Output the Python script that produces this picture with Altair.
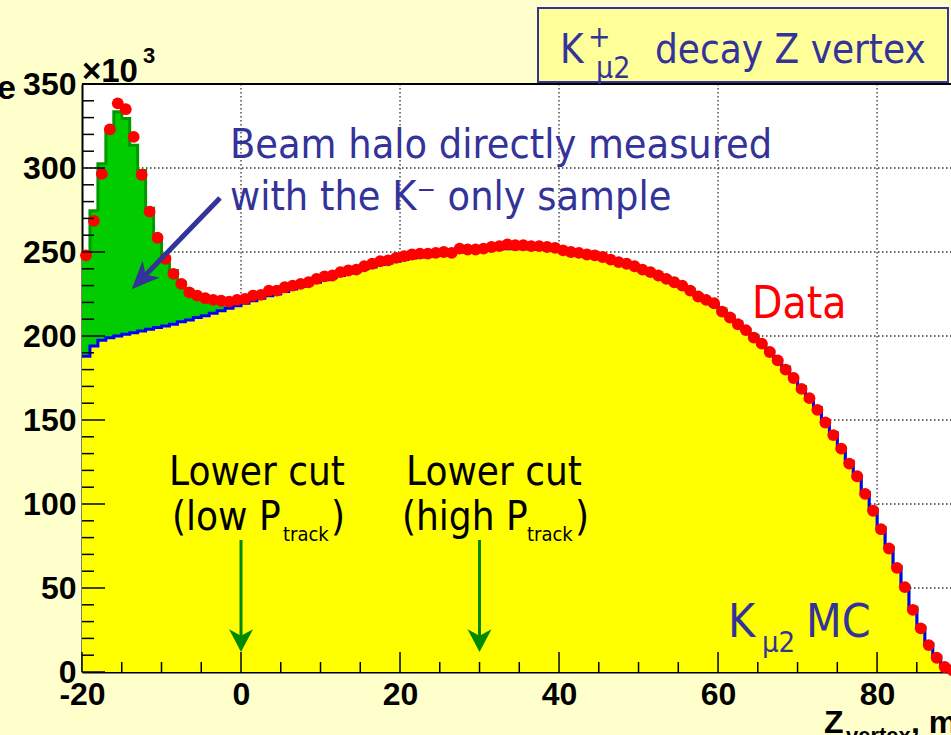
import altair as alt
import pandas as pd

# ---------------- data (counts in units of 10^3, 1 cm bins) ----------------
bin_left_edges = list(range(-20, 90))          # bins [-20,-19) ... [89,90)
bin_centers = [e + 0.5 for e in bin_left_edges]

data_counts = [
    248, 268.5, 296.5, 323, 338.5, 335, 318.5, 296, 274, 258.5,
    246, 237, 231, 226, 224, 222.5, 221.5, 221, 220.5, 221.5,
    222, 224, 224.5, 227, 227, 229, 230, 231, 232, 234,
    235.5, 236, 238, 239, 239.5, 241.5, 243, 244.5, 245, 246.5,
    247.5, 248.5, 249, 249, 249.5, 250, 249.5, 252, 251.5, 251.5,
    252, 253, 253.5, 254.5, 254, 254, 253.5, 253.5, 253, 252.5,
    251, 250, 249.5, 248.5, 248, 247, 245.5, 244, 243, 241.5,
    239.5, 238, 236, 234, 232, 230, 227, 223.5, 221.5, 219.5,
    214.5, 211, 207, 203.5, 199, 195.5, 190.5, 185.5, 180, 175,
    168.5, 163, 156, 148.5, 141, 133, 124, 116.5, 106, 96,
    85, 73.5, 62, 50.5, 37, 26, 16, 8.5, 3, 1,
]

mc_counts = [
    188, 194, 197.5, 199, 200, 201, 202, 203, 204, 205,
    206, 207, 208.5, 209.5, 211, 212, 213.5, 215, 216.5, 218,
    219.5, 221, 222.5, 224, 225, 226.5, 228, 229.5, 231, 232,
    233.5, 235, 236, 237.5, 238.5, 240, 241, 242.5, 243.5, 244.5,
    245.5, 246.5, 247, 247.5, 248.5, 249, 249.5, 250, 250.5, 251,
    251, 251.5, 252, 252, 252, 252, 252, 251.5, 251.5, 251,
    250.5, 249.5, 249, 248, 247, 246, 245, 243.5, 242.5, 241,
    239.5, 238, 236, 234, 232, 229.5, 227, 224, 221.5, 218.5,
    215, 211.5, 207.5, 203.5, 199.5, 195, 190.5, 185.5, 180.5, 175,
    169, 163, 156.5, 149, 141.5, 133, 124.5, 116, 106.5, 96.5,
    85.5, 74, 62.5, 50.5, 38, 26.5, 16.5, 9, 3.5, 1,
]

halo_counts = [
    62, 80.5, 105, 123, 133.5, 128.5, 111.5, 95.5, 72, 54,
    41, 32, 23.5, 17.5, 13, 10.5, 8.5, 6.5, 4.5, 2.5,
    2, 1.5, 1.5, 1, 1, 1, 1, 1, 1, 1,
    1, 0.5, 1, 0.5, 1, 0.5, 0.5, 1, 0.5, 0.5,
    0.5, 1, 0.5, 0.5, 0.5, 1, 0.5, 0.5, 0.5, 0.5,
    1, 0.5, 0.5, 0.5, 0.5, 0.5, 1, 0.5, 0.5, 0.5,
    0.5, 0.5, 1, 0.5, 0.5, 0.5, 0.5, 1, 0.5, 0.5,
    0.5, 0.5, 0.5, 1, 0.5, 0.5, 1, 0.5, 0.5, 0.5,
    1, 0.5, 1, 0.5, 1, 0.5, 1, 0.5, 1, 0.5,
    1, 0.5, 1, 0.5, 1, 0.5, 1, 0.5, 0.5, 0.5,
    0.5, 0.5, 0.5, 0.5, 0.5, 0.5, 0.5, 0.5, 0.5, 0.5,
]

x_tick_labels = [-20, 0, 20, 40, 60, 80]
y_tick_labels = [0, 50, 100, 150, 200, 250, 300, 350]
x_grid = [0, 20, 40, 60, 80]
y_grid = [50, 100, 150, 200, 250, 300]
x_major_ticks = [-20, 0, 20, 40, 60, 80]
x_minor_ticks = [v for v in range(-20, 90, 5) if v % 20]
y_major_ticks = [0, 50, 100, 150, 200, 250, 300, 350]
y_minor_ticks = [v for v in range(0, 351, 10) if v % 50]
cut_positions = [0, 30]

# ---------------- geometry / style ----------------
W, H = 869, 588
PADL, PADT = 82, 84
FONT_T = "DejaVu Sans Condensed"
FONT_AX = "Liberation Sans"
NAVY = "#333399"

xscale = alt.Scale(domain=[-20, 89.3], nice=False, zero=False)
yscale = alt.Scale(domain=[0, 350], nice=False, zero=True)

xaxis = alt.Axis(values=x_tick_labels, ticks=False, tickSize=0, grid=False,
                 domain=True, domainColor="black", domainWidth=2,
                 labelFont=FONT_AX, labelFontWeight="bold", labelFontSize=32,
                 labelColor="black", labelPadding=7, labelFlush=False,
                 labelOverlap=False, title=None,
                 labelExpr="'' + datum.value")
yaxis = alt.Axis(values=y_tick_labels, ticks=False, tickSize=0, grid=False,
                 domain=True, domainColor="black", domainWidth=2,
                 labelFont=FONT_AX, labelFontWeight="bold", labelFontSize=32,
                 labelColor="black", labelPadding=6, labelOverlap=False,
                 title=None, labelExpr="'' + datum.value")


def X(field):
    return alt.X(field, type="quantitative", scale=xscale, axis=xaxis)


def Y(field):
    return alt.Y(field, type="quantitative", scale=yscale, axis=yaxis)


# step tables
step_x = bin_left_edges + [bin_left_edges[-1] + 1]
step_mc = mc_counts + [mc_counts[-1]]
step_top = [m + h for m, h in zip(mc_counts, halo_counts)]
step_top = step_top + [step_top[-1]]
steps = pd.DataFrame({"x": step_x, "mc": step_mc, "top": step_top})
points = pd.DataFrame({"x": bin_centers, "y": data_counts})

one = pd.DataFrame({"a": [0]})

layers = []

# grid
layers.append(
    alt.Chart(pd.DataFrame({"v": x_grid})).mark_rule(
        color="#333333", strokeWidth=1.3, strokeDash=[1.5, 2.5]
    ).encode(x=X("v"), y=alt.value(0), y2=alt.value(H))
)
layers.append(
    alt.Chart(pd.DataFrame({"v": y_grid})).mark_rule(
        color="#333333", strokeWidth=1.3, strokeDash=[1.5, 2.5]
    ).encode(y=Y("v"), x=alt.value(0), x2=alt.value(W))
)

# halo (stacked on MC)
layers.append(
    alt.Chart(steps).mark_area(interpolate="step-after", color="#00CC00", clip=True)
    .encode(x=X("x"), y=Y("mc"), y2="top")
)
layers.append(
    alt.Chart(steps).mark_line(interpolate="step-after", color="#009900",
                               strokeWidth=3, clip=True)
    .encode(x=X("x"), y=Y("top"))
)
# MC
layers.append(
    alt.Chart(steps).mark_area(interpolate="step-after", color="#FFFF00", clip=True)
    .encode(x=X("x"), y=Y("mc"))
)
layers.append(
    alt.Chart(steps).mark_line(interpolate="step-after", color="#0000FF",
                               strokeWidth=3, clip=True)
    .encode(x=X("x"), y=Y("mc"))
)
# data points
layers.append(
    alt.Chart(points).mark_circle(color="#FF0000", size=140, opacity=1)
    .encode(x=X("x"), y=Y("y"))
)

# ticks
layers.append(
    alt.Chart(pd.DataFrame({"v": y_major_ticks})).mark_rule(color="black", strokeWidth=1.5)
    .encode(y=Y("v"), x=alt.value(0), x2=alt.value(23))
)
layers.append(
    alt.Chart(pd.DataFrame({"v": y_minor_ticks})).mark_rule(color="black", strokeWidth=1.5)
    .encode(y=Y("v"), x=alt.value(0), x2=alt.value(12))
)
layers.append(
    alt.Chart(pd.DataFrame({"v": x_major_ticks})).mark_rule(color="black", strokeWidth=1.5)
    .encode(x=X("v"), y=alt.value(H), y2=alt.value(H - 20))
)
layers.append(
    alt.Chart(pd.DataFrame({"v": x_minor_ticks})).mark_rule(color="black", strokeWidth=1.5)
    .encode(x=X("v"), y=alt.value(H), y2=alt.value(H - 10))
)
# top frame
layers.append(
    alt.Chart(one).mark_rule(color="black", strokeWidth=2)
    .encode(x=alt.value(0), x2=alt.value(W), y=alt.value(0))
)


def txt(s, cx, cy, size, color="black", font=FONT_T, weight="normal", align="left"):
    return alt.Chart(one).mark_text(
        text=s, align=align, baseline="alphabetic", fontSize=size, font=font,
        fontWeight=weight, color=color
    ).encode(x=alt.value(cx - PADL), y=alt.value(cy - PADT))


# title box
layers.append(
    alt.Chart(one).mark_rect(fill="#FFFF99", stroke=NAVY, strokeWidth=2)
    .encode(x=alt.value(538 - PADL), x2=alt.value(948 - PADL),
            y=alt.value(8 - PADT), y2=alt.value(82 - PADT))
)
layers += [
    txt("K", 560, 63, 40, NAVY),
    txt("+", 588, 47, 30, NAVY),
    txt("\u03bc2", 596, 78, 30, NAVY),
    txt("decay Z vertex", 655, 63, 40, NAVY),
]

# annotations
layers += [
    txt("Beam halo directly measured", 230, 158, 41, NAVY),
    txt("with the K\u207b only sample", 230, 210, 41, NAVY),
    txt("Data", 752, 318, 44, "#FF0000"),
    txt("K", 728, 637, 46, NAVY),
    txt("\u03bc2", 762, 652, 29, NAVY),
    txt("MC", 806, 637, 46, NAVY),
    txt("Lower cut", 257, 485, 40, align="center"),
    txt("(low P", 172, 530, 40),
    txt("track", 283, 541, 20),
    txt(")", 331, 530, 40),
    txt("Lower cut", 494, 485, 40, align="center"),
    txt("(high P", 402, 530, 40),
    txt("track", 527, 541, 20),
    txt(")", 575, 530, 40),
    # axis decorations
    txt("\u00d710", 82, 82, 33, font=FONT_AX, weight="bold"),
    txt("3", 143, 63, 22, font=FONT_AX, weight="bold"),
    txt("Z", 824, 733, 32, font=FONT_AX, weight="bold"),
    txt("vertex", 846, 743, 22, font=FONT_AX, weight="bold"),
    txt(", mm", 911, 733, 32, font=FONT_AX, weight="bold"),
    txt("e", 16, 99, 34, font=FONT_AX, weight="bold", align="right"),
]

# blue arrow (beam halo)
layers.append(
    alt.Chart(one).mark_rule(color=NAVY, strokeWidth=5)
    .encode(x=alt.value(220 - PADL), y=alt.value(198 - PADT),
            x2=alt.value(141.5 - PADL), y2=alt.value(279.2 - PADT))
)
HEAD = "M0,-1L0.85,1L0,0.45L-0.85,1Z"
layers.append(
    alt.Chart(one).mark_point(shape=HEAD, filled=True, color=NAVY, opacity=1,
                              size=784, angle=224, strokeWidth=0)
    .encode(x=alt.value(141.4 - PADL), y=alt.value(279.2 - PADT))
)

# green cut arrows
layers.append(
    alt.Chart(pd.DataFrame({"v": cut_positions})).mark_rule(color="#008800", strokeWidth=3)
    .encode(x=X("v"), y=alt.value(540 - PADT), y2=alt.value(640 - PADT))
)
GHEAD = "M0,-1L1,0.9L0,0.35L-1,0.9Z"
layers.append(
    alt.Chart(pd.DataFrame({"v": cut_positions})).mark_point(
        shape=GHEAD, filled=True, color="#008800", opacity=1, size=576,
        angle=180, strokeWidth=0)
    .encode(x=X("v"), y=alt.value(640 - PADT))
)

chart = alt.layer(*layers).properties(
    width=W, height=H,
    autosize=alt.AutoSizeParams(type="none"),
    padding={"left": PADL, "top": PADT, "right": 0, "bottom": 735 - PADT - H},
).configure(background="#FFFFCC").configure_view(fill="white", stroke="transparent")

chart.save("out.html", embed_options={"renderer": "svg", "actions": False})
